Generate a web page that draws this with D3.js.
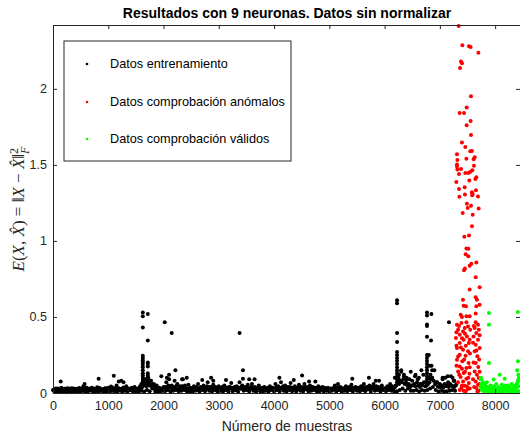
<!DOCTYPE html>
<html>
<head>
<meta charset="utf-8">
<script src="https://cdn.jsdelivr.net/npm/d3@7"></script>
<style>
  body { margin: 0; background: #fff; }
  text { font-family: "Liberation Sans", Arial, Helvetica, sans-serif; }
</style>
</head>
<body>
<div id="chart"></div>
<script>
// Datos de entrenamiento: banda base, una muestra cada 25 (desde 0)
const trainStart = 0;
const trainStep = 25;
const trainBase = [
  .02,.008,.03,.012,.025,.006,.035,.01,.028,.015,.005,.032,.012,.022,.008,.03,.014,.026,.007,.033,
  .01,.028,.045,.012,.03,.006,.024,.016,.034,.009,.027,.013,.038,.008,.029,.015,.022,.006,.031,.011,
  .035,.01,.042,.014,.026,.007,.05,.012,.03,.018,.008,.036,.015,.045,.01,.028,.02,.034,.009,.04,
  .012,.03,.008,.045,.015,.07,.01,.09,.02,.1,.012,.08,.03,.06,.01,.05,.012,.035,.008,.025,
  .04,.012,.07,.02,.09,.01,.05,.015,.08,.02,.06,.01,.045,.015,.09,.02,.035,.01,.055,.012,
  .03,.008,.045,.015,.035,.06,.01,.04,.02,.05,.012,.03,.07,.015,.04,.008,.055,.02,.035,.01,
  .045,.015,.03,.008,.05,.02,.035,.01,.04,.065,.012,.03,.018,.045,.008,.07,.03,.05,.015,.04,
  .02,.055,.01,.035,.06,.015,.04,.008,.03,.05,.012,.025,.008,.04,.015,.03,.01,.045,.02,.035,
  .01,.06,.02,.045,.012,.07,.03,.015,.05,.008,.04,.02,.065,.012,.035,.045,.01,.03,.055,.015,
  .04,.01,.06,.025,.035,.008,.05,.015,.04,.02,.03,.008,.045,.012,.025,.04,.01,.03,.015,.035,
  .008,.03,.015,.025,.05,.01,.035,.02,.04,.008,.03,.015,.045,.012,.035,.02,.055,.01,.03,.04,
  .015,.035,.01,.045,.02,.06,.012,.04,.025,.05,.01,.03,.06,.015,.045,.02,.035,.008,.05,.02,
  .03,.012,.045,.02,.06,.015,.035,.01,.05,.012,.1,.02,.14,.03,.12,.015,.1,.03,.09,.015,
  .08,.015,.11,.02,.09,.01,.06,.02,.12,.015,.07,.02,.1,.03,.18,.04,.15,.02,.07,.01,
  .06,.015,.09,.01,.1,.012,.07,.015,.11,.02,.08,.015,.06
];
// segunda capa de la banda, desplazada 12 muestras
const trainStart2 = 12;
const trainBase2 = [
  .018,.025,.012,.03,.02,.015,.027,.022,.01,.03,.02,.026,.014,.032,.018,.024,.012,.028,.02,.016,
  .024,.015,.03,.02,.035,.014,.028,.018,.022,.03,.012,.025,.02,.033,.016,.026,.012,.03,.02,.024,
  .02,.03,.016,.035,.022,.028,.014,.03,.024,.018,.032,.02,.028,.015,.03,.022,.026,.014,.03,.02,
  .025,.015,.03,.02,.04,.05,.06,.045,.07,.05,.06,.04,.055,.03,.045,.025,.03,.02,.028,.018,
  .025,.04,.03,.05,.035,.045,.025,.04,.03,.05,.025,.035,.03,.045,.035,.05,.02,.03,.025,.035,
  .02,.03,.025,.04,.02,.03,.035,.025,.04,.03,.025,.045,.03,.04,.025,.035,.03,.04,.02,.03,
  .03,.025,.04,.02,.03,.035,.025,.04,.03,.035,.025,.04,.03,.025,.035,.03,.045,.025,.035,.03,
  .035,.03,.025,.04,.03,.035,.025,.03,.04,.025,.03,.035,.025,.03,.02,.035,.025,.03,.035,.025,
  .03,.035,.04,.025,.035,.03,.045,.025,.035,.03,.025,.04,.03,.035,.025,.03,.035,.025,.04,.03,
  .025,.035,.03,.04,.02,.03,.035,.025,.03,.035,.02,.03,.025,.035,.03,.02,.035,.025,.03,.02,
  .025,.02,.03,.035,.025,.03,.02,.035,.025,.03,.02,.035,.025,.03,.04,.025,.035,.03,.025,.03,
  .03,.025,.035,.03,.04,.03,.035,.025,.04,.03,.035,.045,.03,.035,.025,.04,.03,.035,.025,.03,
  .025,.035,.03,.04,.035,.045,.03,.04,.05,.07,.06,.08,.07,.09,.06,.07,.05,.06,.04,.05,
  .05,.06,.045,.07,.05,.04,.06,.05,.07,.045,.05,.06,.07,.09,.1,.08,.06,.07,.045,.04,
  .04,.05,.035,.06,.045,.05,.04,.06,.05,.045,.04,.05
];

// Datos de entrenamiento: puntos sueltos y picos
const trainX = [
  140,572,825,1100,1190,1235,1276,
  1625,1625,1625,1625,1625,1625,1625,1625,1625,1625,1625,1625,1625,1625,1625,1625,
  1600,1650,1610,
  1715,1715,1715,1715,1715,1715,1715,1715,1715,1715,
  1680,1750,1790,1840,
  2022,2148,2215,2335,2420,1960,2060,2100,
  2700,2860,2900,3130,3376,3437,3437,3550,3647,
  4097,4357,4507,4633,4747,5157,5415,5716,5840,5900,
  6225,6225,6225,6225,6225,6225,6225,6225,6225,6225,6225,6225,6225,6225,6225,
  6185,6260,6300,6350,6395,6280,
  6473,6560,6666,6620,
  6767,6767,6767,6767,6767,6767,6767,6767,6767,6767,6767,6767,6767,6767,6767,
  6847,6840,6800,6820,6860,6830,
  7165,7050,7140,7230,7260
];
const trainY = [
  .076,.06,.094,.113,.075,.08,.07,
  .53,.505,.43,.245,.23,.215,.2,.185,.17,.15,.13,.115,.1,.085,.07,.055,
  .06,.07,.04,
  .52,.345,.2,.19,.175,.13,.115,.1,.08,.06,
  .09,.08,.06,.05,
  .465,.395,.149,.09,.1,.11,.1,.12,
  .085,.1,.08,.085,.395,.149,.093,.09,.09,
  .1,.085,.115,.075,.075,.06,.094,.1,.08,.08,
  .61,.59,.395,.335,.27,.25,.23,.21,.19,.17,.15,.13,.11,.09,.07,
  .1,.12,.15,.11,.09,.08,
  .14,.12,.15,.1,
  .53,.51,.45,.44,.37,.25,.23,.21,.19,.17,.15,.13,.11,.09,.07,
  .52,.346,.25,.18,.15,.12,
  .465,.1,.11,.1,.08
];

// Datos de comprobación anómalos
const anomX = [
  7340,7407,7527,7557,7697,7383,7400,7365,7563,7485,7358,7437,7557,7485,7563,7400,7461,7551,7580,7310,
  7630,7612,7317,7480,7310,7310,7617,7383,7317,7588,7551,7515,7461,7346,7660,7642,7298,7533,7449,7346,
  7653,7580,7593,7585,7454,7353,7690,7490,7563,7503,7702,7413,7594,7581,7443,7528,7480,7516,7467,7515,
  7660,7570,7539,7454,7437,7648,7720,7539,7648,7418,7671,7430,7472,7660,7720,7377,7648,7480,7540,7400,
  7310,7390,7480,7510,7450,7330,7420,7550,7360,7490,7290,7430,7360,7525,7310,7420,7510,7360,7465,7310,
  7405,7520,7360,7480,7330,7430,7535,7375,7480,7420,7525,7445,7390,7505,7465,
  7648,7690,7630,7705,7660,7610,7690,7648,7720,7630,7678,7648,7695,7630,7670,7705,7648,7690,7660,7700,
  7300,7345,7400,7455,7540,7300,7380,7470,7545,7330,7440,7300,7400,7540,7350,7455,7515,7330,7400,7490,
  7360,7430,7540,
  7615,7720,7600,7660,7710,7610,7720,7600,7720,7620,7680
];
const anomY = [
  2.414,2.287,2.28,2.275,2.237,2.18,2.168,2.138,1.951,1.877,1.842,1.842,1.789,1.76,1.697,1.647,1.618,1.59,1.592,1.57,
  1.55,1.537,1.533,1.54,1.502,1.49,1.495,1.473,1.47,1.465,1.455,1.447,1.447,1.44,1.418,1.408,1.388,1.397,1.353,1.342,
  1.333,1.32,1.31,1.3,1.305,1.29,1.293,1.245,1.232,1.217,1.214,1.184,1.173,1.096,1.028,1.035,.951,.949,.912,.899,
  .859,.85,.837,.818,.807,.761,.695,.68,.629,.614,.614,.574,.57,.57,.58,.515,.522,.504,.504,.5,
  .449,.46,.465,.438,.428,.416,.405,.416,.383,.372,.362,.35,.329,.329,.296,.285,.274,.252,.245,.219,
  .208,.197,.175,.164,.142,.132,.127,.105,.094,.076,.066,.048,.033,.026,.011,
  .465,.449,.428,.416,.395,.372,.35,.318,.296,.274,.241,.197,.171,.142,.12,.099,.076,.055,.033,.015,
  .4,.44,.36,.39,.35,.31,.3,.31,.26,.24,.22,.18,.16,.17,.12,.14,.1,.07,.05,.045,
  .02,.015,.03,
  .44,.38,.33,.28,.22,.2,.14,.09,.06,.04,.01
];

// Datos de comprobación válidos: banda base, una muestra cada 20 (desde 7740)
const validStart = 7740;
const validStep = 20;
const validBase = [
  .09,.02,.07,.01,.05,.015,.04,.008,.035,.012,.03,.006,.045,.01,.025,.008,.04,.012,
  .03,.006,.035,.01,.05,.015,.03,.008,.04,.012,.025,.006,.035,.01,.03,.008,.045,.012
];
const validStart2 = 7750;
const validBase2 = [
  .04,.05,.025,.03,.02,.025,.018,.03,.02,.025,.015,.028,.02,.025,.018,.03,.022,.02,
  .025,.018,.03,.02,.025,.03,.02,.025,.018,.03,.022,.025,.04,.05,.06,.08,.1
];
const validX = [7745,7750,7735,7888,7888,7888,7973,8082,8173,8412,8412,8400,8420,8430,8410,
  7800,7850,7920,8020,8120,8230,8300,8350];
const validY = [.1,.06,.04,.526,.449,.197,.088,.12,.094,.533,.208,.15,.12,.09,.07,
  .06,.07,.05,.06,.055,.05,.06,.045];

const xTicks = [0,1000,2000,3000,4000,5000,6000,7000,8000];
const yTicks = [0,0.5,1,1.5,2];
const seriesNames = ['Datos entrenamiento', 'Datos comprobación anómalos', 'Datos comprobación válidos'];
const seriesColors = ['#000000', '#ff0000', '#00ff00'];

const width = 520;
const height = 435;
const margin = { top: 25, right: 0, bottom: 42, left: 53 };
const axisColor = '#262626';
const xMax = 8450;
const yMax = 2.42;

const svg = d3.select('#chart').append('svg')
  .attr('width', width)
  .attr('height', height);

const x = d3.scaleLinear().domain([0, xMax]).range([margin.left, 520]);
const y = d3.scaleLinear().domain([0, yMax]).range([height - margin.bottom, margin.top]);

const band = (vals, start, step) => vals.map((v, i) => ({ x: start + i * step, y: v }));
const pairs = (xs, ys) => xs.map((v, i) => ({ x: v, y: ys[i] }));

// puntos
const series = [
  band(trainBase, trainStart, trainStep)
    .concat(band(trainBase2, trainStart2, trainStep))
    .concat(pairs(trainX, trainY)),
  pairs(anomX, anomY),
  band(validBase, validStart, validStep)
    .concat(band(validBase2, validStart2, validStep))
    .concat(pairs(validX, validY))
];

const plot = svg.append('g');
series.forEach((pts, k) => {
  plot.selectAll(null)
    .data(pts)
    .enter().append('circle')
    .attr('cx', d => x(d.x))
    .attr('cy', d => y(d.y))
    .attr('r', 2)
    .attr('fill', seriesColors[k]);
});

// ejes
const styleAxis = g => {
  g.selectAll('path, line').attr('stroke', axisColor);
  g.selectAll('text')
    .attr('fill', axisColor)
    .style('font-size', '12.5px')
    .style('font-family', '"Liberation Sans", Arial, sans-serif');
};

svg.append('g')
  .attr('transform', `translate(0,${y(0)})`)
  .call(d3.axisBottom(x).tickValues(xTicks).tickSizeInner(-4).tickSizeOuter(0).tickPadding(8)
    .tickFormat(d3.format('d')))
  .call(styleAxis);

svg.append('g')
  .attr('transform', `translate(0,${y(yMax)})`)
  .call(d3.axisTop(x).tickValues(xTicks).tickSizeInner(-4).tickSizeOuter(0).tickFormat(''))
  .call(styleAxis);

svg.append('g')
  .attr('transform', `translate(${x(0)},0)`)
  .call(d3.axisLeft(y).tickValues(yTicks).tickSizeInner(-4).tickSizeOuter(0).tickPadding(6)
    .tickFormat(d => String(d)))
  .call(styleAxis);

svg.append('g')
  .attr('transform', `translate(${x(xMax)},0)`)
  .call(d3.axisRight(y).tickValues(yTicks).tickSizeInner(-4).tickSizeOuter(0).tickFormat(''))
  .call(styleAxis);

// título
svg.append('text')
  .attr('x', 287)
  .attr('y', 18)
  .attr('text-anchor', 'middle')
  .attr('fill', '#000')
  .style('font-size', '14px')
  .style('font-weight', 'bold')
  .text('Resultados con 9 neuronas. Datos sin normalizar');

svg.append('text')
  .attr('x', 287)
  .attr('y', 431)
  .attr('text-anchor', 'middle')
  .attr('fill', axisColor)
  .style('font-size', '14px')
  .text('Número de muestras');

// etiqueta eje y (notación LaTeX)
const ylab = svg.append('text')
  .attr('transform', 'translate(24,209) rotate(-90)')
  .attr('text-anchor', 'middle')
  .attr('fill', axisColor)
  .style('font-family', '"Liberation Serif", "Times New Roman", serif')
  .style('font-size', '17px');
ylab.append('tspan').style('font-style', 'italic').text('E');
ylab.append('tspan').text('(');
ylab.append('tspan').style('font-style', 'italic').text('X');
ylab.append('tspan').text(', ');
ylab.append('tspan').style('font-style', 'italic').text('X\u0302');
ylab.append('tspan').text(') = \u2016');
ylab.append('tspan').style('font-style', 'italic').text('X');
ylab.append('tspan').text(' \u2212 ');
ylab.append('tspan').style('font-style', 'italic').text('X\u0302');
ylab.append('tspan').text('\u2016');
ylab.append('tspan').attr('dy', -6).style('font-size', '12px').text('2');
ylab.append('tspan').attr('dx', -6).attr('dy', 11).style('font-size', '12px').style('font-style', 'italic').text('F');

// leyenda
const legend = svg.append('g');
legend.append('rect')
  .attr('x', 64)
  .attr('y', 41)
  .attr('width', 227)
  .attr('height', 120)
  .attr('fill', '#fff')
  .attr('stroke', axisColor)
  .attr('stroke-width', 1);

const rowY = [64, 102, 139];
seriesNames.forEach((name, i) => {
  legend.append('circle')
    .attr('cx', 87)
    .attr('cy', rowY[i])
    .attr('r', 1.3)
    .attr('fill', seriesColors[i]);
  legend.append('text')
    .attr('x', 110)
    .attr('y', rowY[i])
    .attr('dy', '0.35em')
    .attr('fill', '#000')
    .style('font-size', '12.7px')
    .text(name);
});
</script>
</body>
</html>
